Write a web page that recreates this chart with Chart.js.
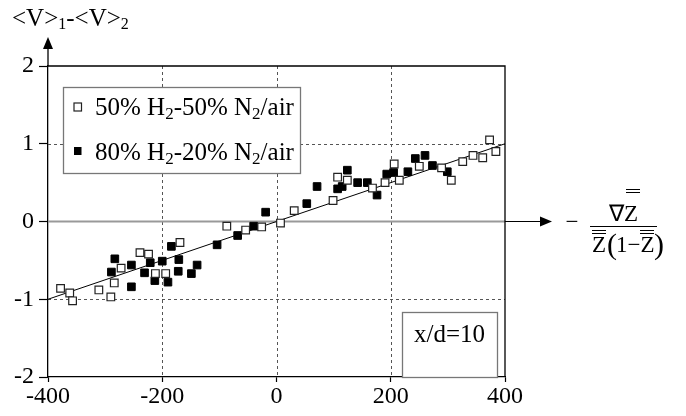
<!DOCTYPE html>
<html>
<head>
<meta charset="utf-8">
<script src="https://cdn.jsdelivr.net/npm/chart.js@4.4.1/dist/chart.umd.min.js"></script>
<style>
  html, body { margin: 0; padding: 0; background: #fff; }
  canvas { display: block; }
</style>
</head>
<body>
<canvas id="myChart" width="686" height="416"></canvas>
<script>
"use strict";
// axis ranges / ticks
const xRange = [-400, 400];
const yRange = [-2, 2];
const xDashed = [-200, 0, 200];
const yDashed = [-1, 1];

// 50% H2 - 50% N2/air (open squares)
const h50X = [-378, -362, -357, -311, -290, -284, -272, -239, -224, -212, -194, -169, -87, -54, -26, 7, 31, 99, 107, 124, 168, 190, 206, 215, 250, 289, 306, 326, 344, 361, 373, 384];
const h50Y = [-0.86, -0.92, -1.02, -0.88, -0.97, -0.79, -0.60, -0.40, -0.42, -0.67, -0.67, -0.27, -0.06, -0.11, -0.07, -0.02, 0.14, 0.27, 0.57, 0.53, 0.43, 0.50, 0.74, 0.53, 0.71, 0.69, 0.53, 0.77, 0.85, 0.82, 1.05, 0.90];

// 80% H2 - 20% N2/air (filled squares)
const h80X = [-289, -283, -254, -254, -231, -221, -213, -200, -190, -184, -171, -172, -149, -139, -104, -68, -40, -19, 53, 71, 107, 115, 124, 142, 159, 176, 193, 205, 230, 243, 260, 273, 299];
const h80Y = [-0.65, -0.48, -0.56, -0.84, -0.66, -0.53, -0.76, -0.51, -0.78, -0.32, -0.49, -0.64, -0.67, -0.56, -0.30, -0.18, -0.06, 0.12, 0.23, 0.45, 0.42, 0.45, 0.66, 0.50, 0.50, 0.34, 0.61, 0.63, 0.64, 0.81, 0.85, 0.72, 0.64];

// fitted line
const fitX = [-400, 400];
const fitY = [-1, 1];

const serif = "'Liberation Serif', 'Times New Roman', serif";

function toPoints(xs, ys) {
    return xs.map((x, i) => ({ x: x, y: ys[i] }));
}

// draws text made of pieces, some of them subscripts
function drawRich(ctx, x, y, parts) {
    ctx.textAlign = "left";
    ctx.textBaseline = "alphabetic";
    parts.forEach(([txt, size, dy]) => {
        ctx.font = size + "px " + serif;
        ctx.fillText(txt, x, y + (dy || 0));
        x += ctx.measureText(txt).width;
    });
}

function arrowHead(ctx, tipX, tipY, dir) {
    ctx.beginPath();
    if (dir === "up") {
        ctx.moveTo(tipX, tipY);
        ctx.lineTo(tipX - 5, tipY + 12);
        ctx.lineTo(tipX + 5, tipY + 12);
    } else {
        ctx.moveTo(tipX, tipY);
        ctx.lineTo(tipX - 12, tipY - 5);
        ctx.lineTo(tipX - 12, tipY + 5);
    }
    ctx.closePath();
    ctx.fill();
}

function doubleBar(ctx, x1, x2, y) {
    ctx.beginPath();
    ctx.moveTo(x1, y); ctx.lineTo(x2, y);
    ctx.moveTo(x1, y + 3); ctx.lineTo(x2, y + 3);
    ctx.stroke();
}

const framePlugin = {
    id: "frame",
    beforeDatasetsDraw(chart) {
        const { ctx, chartArea: a, scales: { x, y } } = chart;
        ctx.save();
        // dashed grid
        ctx.strokeStyle = "#555";
        ctx.lineWidth = 1;
        ctx.setLineDash([3, 3]);
        xDashed.forEach(v => {
            const px = Math.round(x.getPixelForValue(v)) + 0.5;
            ctx.beginPath(); ctx.moveTo(px, a.top); ctx.lineTo(px, a.bottom); ctx.stroke();
        });
        yDashed.forEach(v => {
            const py = Math.round(y.getPixelForValue(v)) + 0.5;
            ctx.beginPath(); ctx.moveTo(a.left, py); ctx.lineTo(a.right, py); ctx.stroke();
        });
        ctx.setLineDash([]);
        // zero line (grey inside the frame)
        const y0 = y.getPixelForValue(0);
        ctx.strokeStyle = "#999";
        ctx.lineWidth = 2;
        ctx.beginPath(); ctx.moveTo(a.left, y0); ctx.lineTo(a.right, y0); ctx.stroke();
        // top and right frame
        ctx.strokeStyle = "#000";
        ctx.lineWidth = 1.3;
        ctx.beginPath();
        ctx.moveTo(a.left, a.top); ctx.lineTo(a.right, a.top); ctx.lineTo(a.right, a.bottom);
        ctx.stroke();
        // y-axis arrow
        ctx.fillStyle = "#000";
        ctx.lineWidth = 1.3;
        ctx.beginPath(); ctx.moveTo(a.left, a.top); ctx.lineTo(a.left, 46); ctx.stroke();
        arrowHead(ctx, a.left, 37, "up");
        // x-axis arrow
        ctx.lineWidth = 1;
        ctx.beginPath(); ctx.moveTo(a.right, y0); ctx.lineTo(542, y0); ctx.stroke();
        arrowHead(ctx, 552, y0, "right");
        // legend box
        ctx.fillStyle = "#fff";
        ctx.fillRect(63, 87, 237, 86);
        ctx.strokeStyle = "#777";
        ctx.lineWidth = 1.3;
        ctx.strokeRect(63.5, 87.5, 237, 86);
        // x/d box
        ctx.fillRect(402, 312, 95, a.bottom - 312);
        ctx.strokeRect(402.5, 312.5, 95, a.bottom - 312);
        ctx.restore();
    },
    afterDraw(chart) {
        const { ctx } = chart;
        ctx.save();
        ctx.fillStyle = "#000";
        // y-axis title
        drawRich(ctx, 12, 26, [["<V>", 25], ["1", 16, 3], ["-<V>", 25], ["2", 16, 3]]);
        // legend
        ctx.lineWidth = 1.2;
        ctx.strokeStyle = "#222";
        ctx.fillStyle = "#fff";
        ctx.fillRect(74, 103, 7.5, 8);
        ctx.strokeRect(74, 103, 7.5, 8);
        ctx.fillStyle = "#000";
        ctx.fillRect(74, 147, 7.5, 8);
        drawRich(ctx, 95, 115, [["50% H", 25], ["2", 17, 4], ["-50% N", 25], ["2", 17, 4], ["/air", 25]]);
        drawRich(ctx, 95, 160, [["80% H", 25], ["2", 17, 4], ["-20% N", 25], ["2", 17, 4], ["/air", 25]]);
        // station label
        ctx.font = "25px " + serif;
        ctx.textAlign = "center";
        ctx.fillText("x/d=10", 449.5, 342);
        // x-axis quantity: - grad(Z) / (Z (1-Z))
        ctx.font = "23px " + serif;
        ctx.fillText("\u2212", 572, 229);
        ctx.textAlign = "left";
        ctx.fillText("\u2207Z", 609, 221);
        ctx.lineWidth = 1;
        ctx.strokeStyle = "#000";
        doubleBar(ctx, 626, 640, 189.5);
        ctx.beginPath(); ctx.moveTo(590, 226.5); ctx.lineTo(657, 226.5); ctx.stroke();
        ctx.fillText("Z", 592, 252);
        doubleBar(ctx, 592, 606, 230.5);
        ctx.font = "30px " + serif;
        ctx.fillText("(", 607, 254);
        ctx.font = "23px " + serif;
        ctx.fillText("1\u2212Z", 616, 252);
        doubleBar(ctx, 640, 654, 230.5);
        ctx.font = "30px " + serif;
        ctx.fillText(")", 654, 254);
        ctx.restore();
    }
};

const ctx = document.getElementById("myChart");
new Chart(ctx, {
    type: "scatter",
    data: {
        datasets: [
            {
                label: "50% H2-50% N2/air",
                data: toPoints(h50X, h50Y),
                pointStyle: "rect",
                pointRadius: 5.4,
                backgroundColor: "#fff",
                borderColor: "#222",
                borderWidth: 1.2
            },
            {
                label: "80% H2-20% N2/air",
                data: toPoints(h80X, h80Y),
                pointStyle: "rect",
                pointRadius: 5.4,
                backgroundColor: "#000",
                borderColor: "#000",
                borderWidth: 1
            },
            {
                type: "line",
                label: "fit",
                data: toPoints(fitX, fitY),
                borderColor: "#000",
                borderWidth: 1,
                pointRadius: 0,
                fill: false
            }
        ]
    },
    options: {
        responsive: false,
        animation: false,
        layout: { padding: { top: 66, right: 181, left: 0, bottom: 0 } },
        plugins: {
            legend: { display: false },
            tooltip: { enabled: false }
        },
        scales: {
            x: {
                type: "linear",
                min: xRange[0],
                max: xRange[1],
                afterFit: s => { s.height = 39; },
                ticks: {
                    stepSize: 200,
                    color: "#000",
                    padding: 0,
                    maxRotation: 0,
                    font: { family: serif, size: 24 }
                },
                grid: { drawOnChartArea: false, tickLength: 5, tickColor: "#000", tickWidth: 1.2 },
                border: { color: "#000", width: 1.3 }
            },
            y: {
                type: "linear",
                min: yRange[0],
                max: yRange[1],
                afterFit: s => { s.width = 48; },
                ticks: {
                    stepSize: 1,
                    color: "#000",
                    padding: 5,
                    font: { family: serif, size: 24 }
                },
                grid: { drawOnChartArea: false, tickLength: 9, tickColor: "#000", tickWidth: 1.2 },
                border: { color: "#000", width: 1.3 }
            }
        }
    },
    plugins: [framePlugin]
});
</script>
</body>
</html>
